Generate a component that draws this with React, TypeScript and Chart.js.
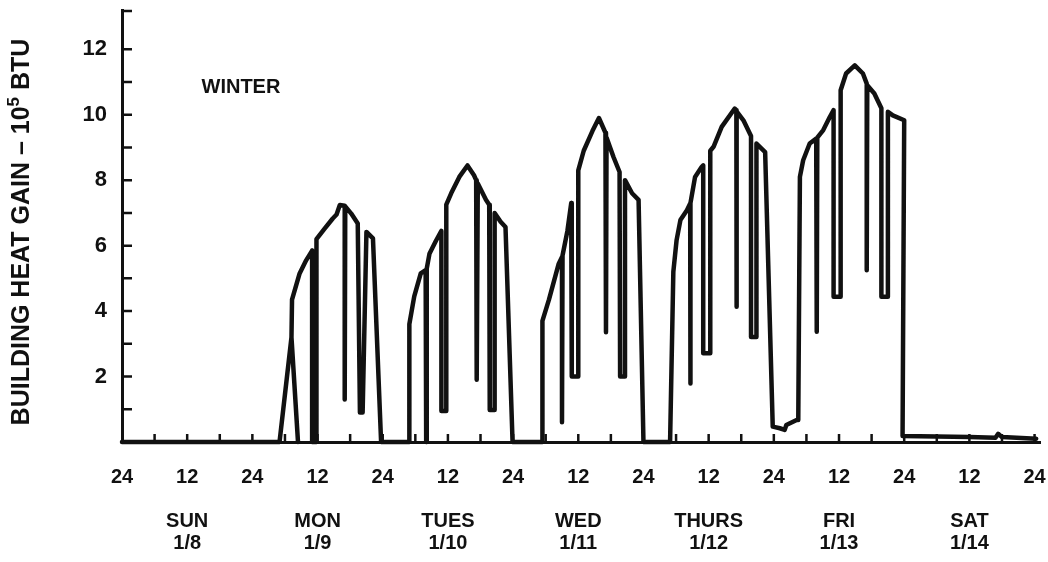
import React, { useEffect, useRef } from "react";
import { Chart, registerables } from "chart.js";

Chart.register(...registerables);

// Hours counted from the start of Sunday 1/8; building heat gain in 10^5 BTU.
const sunHours = [0, 29.0];
const sunGain = [0, 0];

const monHours = [29.0, 31.2, 32.4, 31.2, 31.3, 32.7, 33.9, 35.0, 35.0, 35.8, 35.8, 37.3, 38.8, 39.5, 40.1, 41.0, 41.0, 41.1, 42.2, 43.4, 43.8, 44.3, 45.0, 46.2, 47.7];
const monGain = [0, 3.2, 0, 3.2, 4.35, 5.15, 5.55, 5.85, 0, 0, 6.2, 6.52, 6.83, 6.95, 7.24, 7.22, 1.3, 7.2, 6.98, 6.68, 0.9, 0.9, 6.42, 6.22, 0];

const tueHours = [52.9, 52.9, 53.8, 55.0, 55.9, 56.0, 56.1, 56.6, 57.8, 58.8, 58.8, 59.7, 59.7, 60.6, 62.1, 63.6, 64.8, 65.2, 65.3, 65.5, 67.0, 67.6, 67.7, 68.6, 68.6, 69.7, 70.6, 71.9];
const tueGain = [0, 3.6, 4.45, 5.15, 5.25, 0, 5.3, 5.75, 6.15, 6.45, 0.95, 0.95, 7.25, 7.6, 8.1, 8.45, 8.15, 8.0, 1.9, 7.9, 7.4, 7.25, 0.98, 0.98, 7.0, 6.73, 6.57, 0];

const wedHours = [77.4, 77.4, 78.6, 80.4, 81.0, 81.0, 81.1, 82.0, 82.7, 82.8, 84.0, 84.0, 85.0, 86.6, 87.8, 89.0, 89.1, 89.2, 90.5, 91.6, 91.7, 92.6, 92.6, 93.9, 95.1, 96.0];
const wedGain = [0, 3.7, 4.35, 5.45, 5.65, 0.6, 5.7, 6.45, 7.3, 2.0, 2.0, 8.3, 8.9, 9.5, 9.9, 9.45, 3.35, 9.3, 8.7, 8.25, 2.0, 2.0, 8.0, 7.6, 7.4, 0];

const thuHours = [100.9, 101.5, 102.1, 102.8, 104.0, 104.6, 104.6, 104.7, 105.5, 106.7, 107.0, 107.0, 108.3, 108.3, 108.9, 110.4, 112.8, 113.1, 113.1, 113.2, 114.4, 115.8, 115.8, 116.8, 116.8, 118.4, 119.8, 121.1, 122.0, 122.3, 124.2];
const thuGain = [0, 5.2, 6.17, 6.78, 7.08, 7.29, 1.79, 7.3, 8.1, 8.4, 8.45, 2.71, 2.71, 8.9, 9.02, 9.63, 10.19, 10.14, 4.13, 10.1, 9.83, 9.35, 3.21, 3.21, 9.12, 8.86, 0.47, 0.42, 0.37, 0.52, 0.67];

const friHours = [124.5, 124.8, 125.4, 126.6, 127.8, 127.9, 128.0, 129.1, 130.3, 131.0, 131.0, 132.2, 132.3, 133.3, 134.9, 136.4, 137.1, 137.1, 137.2, 138.5, 139.8, 139.8, 141.0, 141.0, 141.9, 144.0, 143.7];
const friGain = [0.67, 8.1, 8.61, 9.12, 9.27, 3.37, 9.3, 9.53, 9.93, 10.14, 4.44, 4.44, 10.75, 11.26, 11.51, 11.26, 10.95, 5.25, 10.9, 10.65, 10.2, 4.44, 4.44, 10.09, 9.98, 9.83, 0.18];

const satHours = [150.0, 156.0, 160.8, 161.3, 162.0, 168.3];
const satGain = [0.17, 0.15, 0.13, 0.25, 0.15, 0.1];

const xTickLabels = ["24", "12", "24", "12", "24", "12", "24", "12", "24", "12", "24", "12", "24", "12", "24"];
const dayNames = ["SUN", "MON", "TUES", "WED", "THURS", "FRI", "SAT"];
const dayDates = ["1/8", "1/9", "1/10", "1/11", "1/12", "1/13", "1/14"];

const yTitleMain = "BUILDING HEAT GAIN – 10";
const yTitleSup = "5";
const yTitleTail = " BTU";
const seasonLabel = "WINTER";
const seasonAtHour = 21.9;
const seasonAtGain = 10.83;

const INK = "#111";
const FONT = "'Liberation Sans', Arial, Helvetica, sans-serif";

const allHours = [...sunHours, ...monHours, ...tueHours, ...wedHours, ...thuHours, ...friHours, ...satHours];
const allGain = [...sunGain, ...monGain, ...tueGain, ...wedGain, ...thuGain, ...friGain, ...satGain];

const decorPlugin = {
  id: "decor",
  afterDraw(chart: any) {
    const { ctx, chartArea } = chart;
    const xs = chart.scales.x;
    const ys = chart.scales.y;
    ctx.save();
    ctx.strokeStyle = INK;
    ctx.lineWidth = 2.5;
    ctx.beginPath();
    xs.ticks.forEach((t: any) => {
      if (t.value > 0) {
        const px = xs.getPixelForValue(t.value);
        ctx.moveTo(px, chartArea.bottom);
        ctx.lineTo(px, chartArea.bottom - 8);
      }
    });
    ys.ticks.forEach((t: any) => {
      if (t.value > 0 && t.value <= 12) {
        const py = ys.getPixelForValue(t.value);
        ctx.moveTo(chartArea.left, py);
        ctx.lineTo(chartArea.left + 10, py);
      }
    });
    const topPy = ys.getPixelForValue(ys.max);
    ctx.moveTo(chartArea.left, topPy + 1);
    ctx.lineTo(chartArea.left + 10, topPy + 1);
    ctx.stroke();

    // season annotation
    ctx.fillStyle = INK;
    ctx.font = `bold 20px ${FONT}`;
    ctx.textAlign = "center";
    ctx.textBaseline = "middle";
    ctx.fillText(seasonLabel, xs.getPixelForValue(seasonAtHour), ys.getPixelForValue(seasonAtGain));

    // rotated y-axis title with superscript
    const mainFont = `bold 25px ${FONT}`;
    const supFont = `bold 17px ${FONT}`;
    ctx.font = mainFont;
    const w1 = ctx.measureText(yTitleMain).width;
    const w3 = ctx.measureText(yTitleTail).width;
    ctx.font = supFont;
    const w2 = ctx.measureText(yTitleSup).width;
    const total = w1 + w2 + w3;
    const cx = 22;
    const cy = (chartArea.top + chartArea.bottom) / 2 + 6;
    ctx.translate(cx, cy);
    ctx.rotate(-Math.PI / 2);
    ctx.textAlign = "left";
    ctx.textBaseline = "middle";
    let x0 = -total / 2;
    ctx.font = mainFont;
    ctx.fillText(yTitleMain, x0, 0);
    x0 += w1;
    ctx.font = supFont;
    ctx.fillText(yTitleSup, x0, -8);
    x0 += w2;
    ctx.font = mainFont;
    ctx.fillText(yTitleTail, x0, 0);
    ctx.restore();
  },
};

export default function App() {
  const canvasRef = useRef<HTMLCanvasElement | null>(null);

  useEffect(() => {
    document.body.style.margin = "0";
    const canvas = canvasRef.current;
    if (!canvas) return;
    const points = allHours.map((h, i) => ({ x: h, y: allGain[i] }));
    const chart = new Chart(canvas, {
      type: "line",
      data: {
        datasets: [
          {
            data: points,
            borderColor: INK,
            borderWidth: 4.5,
            pointRadius: 0,
            tension: 0,
            borderJoinStyle: "round",
            borderCapStyle: "round",
            fill: false,
            clip: 6,
          } as any,
        ],
      },
      options: {
        responsive: false,
        animation: false,
        layout: { padding: { top: 10, right: 8, left: 0, bottom: 0 } },
        plugins: { legend: { display: false }, tooltip: { enabled: false }, title: { display: false } },
        scales: {
          x: {
            type: "linear",
            min: 0,
            max: 169,
            grid: { display: false, drawTicks: false },
            border: { display: true, color: INK, width: 3 },
            afterFit: (scale: any) => {
              scale.height = 120;
              scale.paddingLeft = 0;
              scale.paddingRight = 0;
            },
            ticks: {
              stepSize: 6,
              includeBounds: false,
              autoSkip: false,
              maxRotation: 0,
              minRotation: 0,
              padding: 24,
              color: INK,
              font: { family: FONT, size: 20, weight: "bold", lineHeight: "22px" },
              callback: (v: any) => {
                const val = Number(v);
                if (Math.abs(val % 12) > 1e-6) return "";
                const idx = Math.round(val / 12);
                const lab = xTickLabels[idx] ?? "";
                if (idx % 2 === 1) {
                  const d = (idx - 1) / 2;
                  return [lab, "", dayNames[d], dayDates[d]];
                }
                return lab;
              },
            },
          },
          y: {
            type: "linear",
            min: 0,
            max: 13.2,
            grid: { display: false, drawTicks: false },
            border: { display: true, color: INK, width: 3 },
            afterFit: (scale: any) => {
              scale.width = 122;
              scale.paddingTop = 0;
              scale.paddingBottom = 0;
            },
            ticks: {
              stepSize: 1,
              includeBounds: false,
              autoSkip: false,
              padding: 15,
              color: INK,
              font: { family: FONT, size: 22, weight: "bold" },
              callback: (v: any) => {
                const val = Number(v);
                if (val > 0 && val <= 12 && val % 2 === 0) return String(val);
                return "";
              },
            },
          },
        },
      },
      plugins: [decorPlugin],
    });
    return () => chart.destroy();
  }, []);

  return (
    <div style={{ width: 1048, height: 562 }}>
      <canvas ref={canvasRef} width={1048} height={562} />
    </div>
  );
}
